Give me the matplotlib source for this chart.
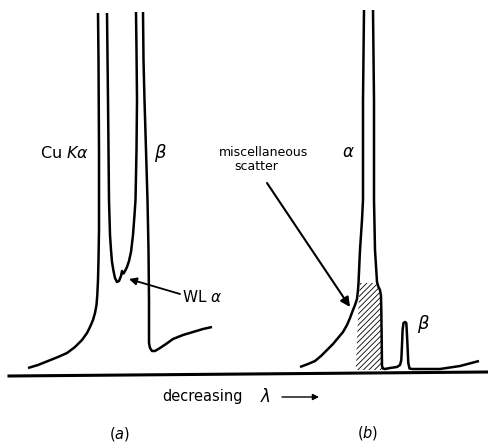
import matplotlib
matplotlib.use("Agg")
import matplotlib.pyplot as plt

plt.rcParams['font.family'] = ['DejaVu Sans']
plt.rcParams['mathtext.fontset'] = 'dejavusans'
plt.rcParams['hatch.linewidth'] = 0.6

# ---- data (schematic coordinates: x = position along wavelength axis, y = height from top) ----
# Panel (a): Cu K-alpha peak left wall
a_ka_left_x = [28, 38, 48, 58, 67, 75, 82, 87, 90, 93, 95, 96.5, 97.3, 98, 98.5, 99, 99, 98.5, 98]
a_ka_left_y = [368, 365, 361, 357, 353, 347, 340, 333, 327, 320, 313, 305, 295, 280, 260, 230, 150, 60, 13]
# Panel (a): K-alpha right wall, valley with W L-alpha bump, K-beta left wall
a_mid_x = [107, 108, 109, 110, 111, 112, 113.5, 115, 117, 119, 121, 122, 123.5, 125, 127, 129,
           131, 133, 134.5, 135.5, 136.5, 137, 136.5, 136]
a_mid_y = [13, 100, 200, 235, 250, 262, 271, 278, 282, 281, 276, 271, 273.5, 271, 267, 261,
           252, 235, 215, 200, 150, 100, 50, 12]
# Panel (a): K-beta right wall and tail
a_kb_right_x = [143, 143.5, 144.5, 146, 147.5, 148.5, 149, 149, 150, 152, 155, 160, 166, 173, 183, 193, 203, 212]
a_kb_right_y = [12, 60, 100, 150, 200, 250, 300, 343, 348, 351, 351, 348, 344, 339, 335, 332, 329, 327]

# Panel (b): alpha peak left wall
b_a_left_x = [300, 308, 315, 321, 327, 333, 338, 343, 347, 350, 353, 355, 357, 358, 358.5,
              360, 362, 363, 363, 364]
b_a_left_y = [367, 364, 361, 356, 350, 344, 338, 332, 325, 318, 310, 305, 299, 290, 283,
              250, 220, 200, 100, 10]
# Panel (b): alpha right wall, background, beta peak, tail
b_right_x = [373, 374, 374, 375, 377, 378.5, 380, 381, 381.3, 381.7, 382, 383, 385, 390, 397,
             400, 401.3, 402, 402.6, 403.5, 405, 406.3, 407, 407.7, 408.3, 409.5, 412, 440, 460, 479]
b_right_y = [10, 100, 200, 250, 282, 287, 290, 296, 310, 340, 366, 368.5, 369, 368, 367,
             365, 360, 345, 330, 323, 322, 323, 335, 350, 363, 368.5, 369, 369, 366, 361]
# Panel (b): hatched "miscellaneous scatter" region
hatch_y = [283, 287, 290, 296, 310, 340, 366, 370]
hatch_xl = [360, 359.7, 359.5, 359, 358.3, 357, 356, 355.5]
hatch_xr = [377, 378.5, 380, 381, 381.3, 381.7, 382, 383]

# baseline
base_x = [9, 488]
base_y = [376, 372]

fig = plt.figure(figsize=(4.88, 4.46), dpi=100)
ax = fig.add_axes([0, 0, 1, 1])
ax.set_xlim(0, 488)
ax.set_ylim(446, 0)
ax.axis('off')

lw = 1.8
for xs, ys in [(a_ka_left_x, a_ka_left_y), (a_mid_x, a_mid_y), (a_kb_right_x, a_kb_right_y),
               (b_a_left_x, b_a_left_y), (b_right_x, b_right_y)]:
    ax.plot(xs, ys, color='black', lw=lw, solid_capstyle='butt', solid_joinstyle='round')
ax.fill_betweenx(hatch_y, hatch_xl, hatch_xr, facecolor='white', edgecolor='black',
                 hatch='//////', linewidth=0)
ax.plot(base_x, base_y, color='black', lw=2.2)

# labels
ax.text(40, 153, r"Cu $K\alpha$", fontsize=11.5, ha='left', va='center')
ax.text(160, 153, r"$\beta$", fontsize=13, ha='center', va='center')
ax.text(348, 152, r"$\alpha$", fontsize=12, ha='center', va='center')
ax.text(423, 324, r"$\beta$", fontsize=13, ha='center', va='center')
ax.text(182, 297, r"WL $\alpha$", fontsize=11, ha='left', va='center')
ax.text(263, 153, "miscellaneous", fontsize=9, ha='center', va='center')
ax.text(256, 167, "scatter", fontsize=9, ha='center', va='center')
ax.text(162, 397, "decreasing", fontsize=10.5, ha='left', va='center')
ax.text(265, 397, r"$\lambda$", fontsize=12, ha='center', va='center')
ax.text(120, 434, r"($a$)", fontsize=10.5, ha='center', va='center')
ax.text(368, 433, r"($b$)", fontsize=10.5, ha='center', va='center')

# arrows
ax.annotate("", xy=(129, 279), xytext=(180, 294),
            arrowprops=dict(arrowstyle='-|>', color='black', lw=1.3, mutation_scale=11,
                            shrinkA=0, shrinkB=0))
ax.annotate("", xy=(350, 307), xytext=(267, 183),
            arrowprops=dict(arrowstyle='-|>', color='black', lw=1.5, mutation_scale=14,
                            shrinkA=0, shrinkB=0))
ax.annotate("", xy=(319, 397), xytext=(282, 397),
            arrowprops=dict(arrowstyle='-|>', color='black', lw=1.0, mutation_scale=9,
                            shrinkA=0, shrinkB=0))

fig.savefig("out.png", dpi=100, facecolor='white')
